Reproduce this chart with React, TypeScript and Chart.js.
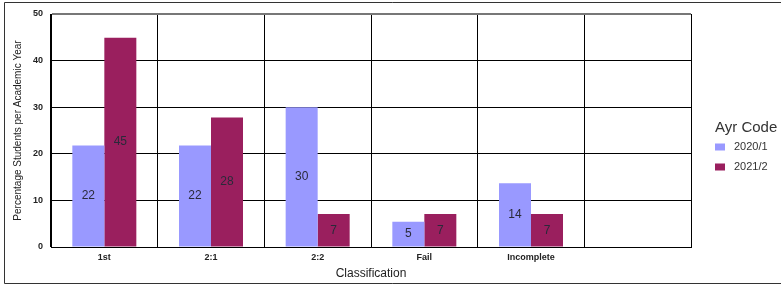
import React, { useEffect, useRef } from 'react';
import { Chart, registerables } from 'chart.js';

Chart.register(...registerables);

const categories = ['1st', '2:1', '2:2', 'Fail', 'Incomplete', ''];
const series2020 = [21.8, 21.8, 30, 5.4, 13.7, null];
const series2021 = [44.9, 27.8, 7.1, 7.1, 7.1, null];
const seriesNames = ['2020/1', '2021/2'];
const legendTitle = 'Ayr Code';
const yMin = 0;
const yMax = 50;
const yStep = 10;

const FONT = '"Liberation Sans", Arial, sans-serif';

const framePlugin = {
  id: 'frame',
  beforeDraw(chart: any) {
    const { ctx, width } = chart;
    ctx.save();
    ctx.fillStyle = '#ffffff';
    ctx.fillRect(0, 0, width, chart.height);
    ctx.strokeStyle = '#333333';
    ctx.lineWidth = 1;
    ctx.beginPath();
    ctx.moveTo(width, 2.5);
    ctx.lineTo(4.5, 2.5);
    ctx.lineTo(4.5, 283.5);
    ctx.lineTo(width, 283.5);
    ctx.stroke();
    ctx.restore();
  },
};

const valueLabelPlugin = {
  id: 'valueLabels',
  afterDatasetsDraw(chart: any) {
    const { ctx } = chart;
    ctx.save();
    ctx.font = `12px ${FONT}`;
    ctx.fillStyle = '#2a2a3a';
    ctx.textAlign = 'center';
    ctx.textBaseline = 'middle';
    chart.data.datasets.forEach((ds: any, di: number) => {
      const meta = chart.getDatasetMeta(di);
      meta.data.forEach((bar: any, i: number) => {
        const v = ds.data[i];
        if (v === null || v === undefined) return;
        const y = (bar.y + bar.base) / 2;
        ctx.fillText(String(Math.round(v)), bar.x, y);
      });
    });
    ctx.restore();
  },
};

const sideLegendPlugin = {
  id: 'sideLegend',
  afterDraw(chart: any) {
    const { ctx, chartArea } = chart;
    const x0 = chartArea.right + 24;
    ctx.save();
    ctx.textAlign = 'left';
    ctx.textBaseline = 'middle';
    ctx.fillStyle = '#333333';
    ctx.font = `15px ${FONT}`;
    ctx.fillText(legendTitle, x0, 127.5);
    ctx.font = `11px ${FONT}`;
    chart.data.datasets.forEach((ds: any, i: number) => {
      const cy = 147 + i * 20;
      ctx.fillStyle = ds.backgroundColor;
      ctx.fillRect(x0, cy - 3.5, 10, 7);
      ctx.fillStyle = '#333333';
      ctx.fillText(ds.label, x0 + 19, cy);
    });
    ctx.restore();
  },
};

export default function App() {
  const ref = useRef<HTMLCanvasElement | null>(null);

  useEffect(() => {
    if (!ref.current) return;
    const chart = new Chart(ref.current, {
      type: 'bar',
      data: {
        labels: categories,
        datasets: [
          {
            label: seriesNames[0],
            data: series2020,
            backgroundColor: '#9999FF',
            borderWidth: 0,
            categoryPercentage: 0.6,
            barPercentage: 1,
          },
          {
            label: seriesNames[1],
            data: series2021,
            backgroundColor: '#9A1F5E',
            borderWidth: 0,
            categoryPercentage: 0.6,
            barPercentage: 1,
          },
        ],
      } as any,
      options: {
        responsive: false,
        animation: false,
        layout: { padding: { top: 14, left: 0, right: 0, bottom: 0 } },
        plugins: {
          tooltip: { enabled: false },
          legend: { display: false },
        },
        scales: {
          x: {
            grid: { display: true, offset: true, color: '#000000', lineWidth: 1, drawTicks: false },
            border: { display: true, color: '#000000' },
            ticks: { color: '#222222', font: { family: FONT, size: 9, weight: 'bold' }, padding: 5, maxRotation: 0, autoSkip: false },
            title: {
              display: true,
              text: 'Classification',
              color: '#222222',
              font: { family: FONT, size: 12 },
              padding: { top: 0, bottom: 3 },
            },
            afterFit: (s: any) => { s.height = 37; },
          },
          y: {
            min: yMin,
            max: yMax,
            grid: {
              color: (c: any) => (c.tick && c.tick.value === yMax ? '#777777' : '#000000'),
              lineWidth: (c: any) => (c.tick && c.tick.value === yMax ? 2 : 1),
              drawTicks: false,
            },
            border: { display: true, color: '#000000' },
            ticks: { stepSize: yStep, color: '#222222', font: { family: FONT, size: 9, weight: 'bold' }, padding: 8 },
            title: {
              display: true,
              text: 'Percentage Students per Academic Year',
              color: '#222222',
              font: { family: FONT, size: 10 },
              padding: { top: 12, bottom: 0 },
            },
            afterFit: (s: any) => { s.width = 51; },
          },
          gap: {
            type: 'linear',
            position: 'right',
            display: true,
            grid: { display: false, drawTicks: false },
            border: { display: false },
            ticks: { display: false },
            afterFit: (s: any) => { s.width = 90; },
          },
        },
      } as any,
      plugins: [framePlugin, valueLabelPlugin, sideLegendPlugin],
    });
    return () => chart.destroy();
  }, []);

  return (
    <div style={{ position: 'absolute', left: 0, top: 0, width: 781, height: 284 }}>
      <canvas ref={ref} width={781} height={284} style={{ display: 'block' }} />
    </div>
  );
}
